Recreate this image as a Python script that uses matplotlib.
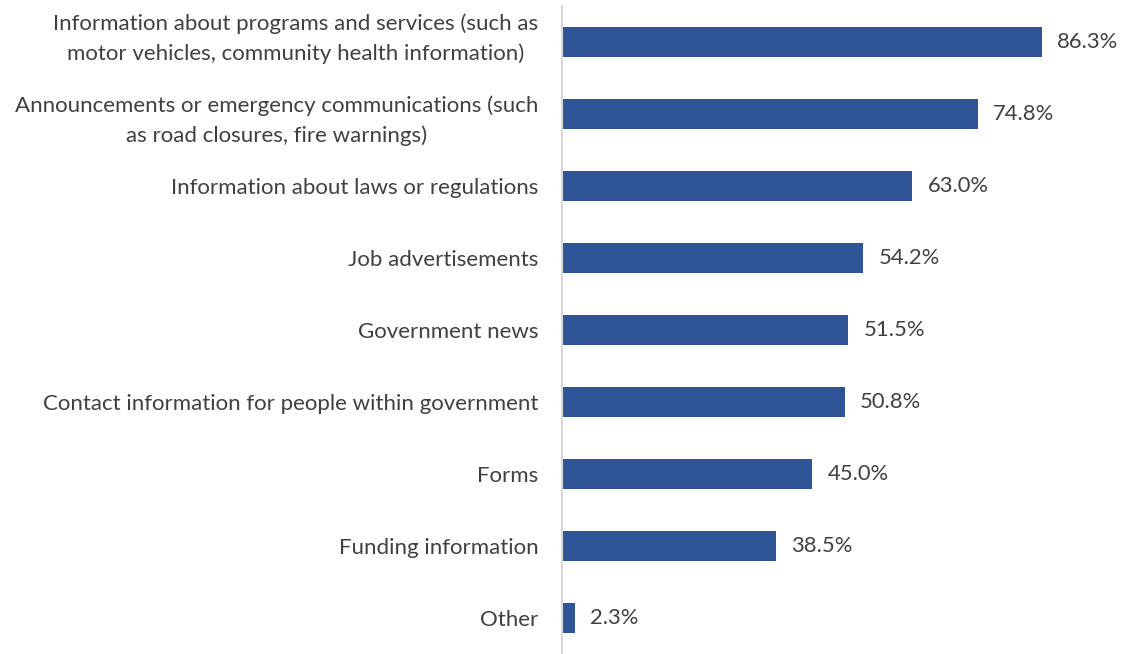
import matplotlib
matplotlib.use("Agg")
import matplotlib.pyplot as plt
from matplotlib.transforms import ScaledTranslation

# survey categories, top to bottom
categories = [
    "Information about programs and services (such as\nmotor vehicles, community health information)",
    "Announcements or emergency communications (such\nas road closures, fire warnings)",
    "Information about laws or regulations",
    "Job advertisements",
    "Government news",
    "Contact information for people within government",
    "Forms",
    "Funding information",
    "Other",
]
percent = [86.3, 74.8, 63.0, 54.2, 51.5, 50.8, 45.0, 38.5, 2.3]

bar_color = "#2F5597"
text_color = "#404040"

plt.rcParams['font.family'] = ['Lato', 'DejaVu Sans']

fig = plt.figure(figsize=(11.21, 6.54), dpi=100)
ax = fig.add_axes([562 / 1121, 0.0, 1 - 562 / 1121, 648 / 654])

ypos = list(range(len(categories)))
ax.barh(ypos, percent, height=0.42, color=bar_color)

for y, v in zip(ypos, percent):
    ax.annotate(f"{v:.1f}%", xy=(v, y), xytext=(15, 0), textcoords="offset pixels",
                va="center", ha="left", fontsize=15.8, color=text_color)

ax.set_yticks(ypos)
ax.set_yticklabels(categories, fontsize=16, color=text_color, ha="right",
                   multialignment="center", linespacing=1.55)
ax.tick_params(axis="y", length=0, pad=17)
ax.set_ylim(len(categories) - 0.5, -0.5)
ax.set_xlim(0, 100.5)
ax.set_xticks([])

# nudge the top two-line label up a little
lbl = ax.get_yticklabels()[0]
lbl.set_transform(lbl.get_transform() + ScaledTranslation(0, 10 / 100, fig.dpi_scale_trans))

for side in ["top", "right", "bottom"]:
    ax.spines[side].set_visible(False)
ax.spines["left"].set_color("#D9D9D9")
ax.spines["left"].set_linewidth(1.5)

fig.savefig("out.png", dpi=100)
